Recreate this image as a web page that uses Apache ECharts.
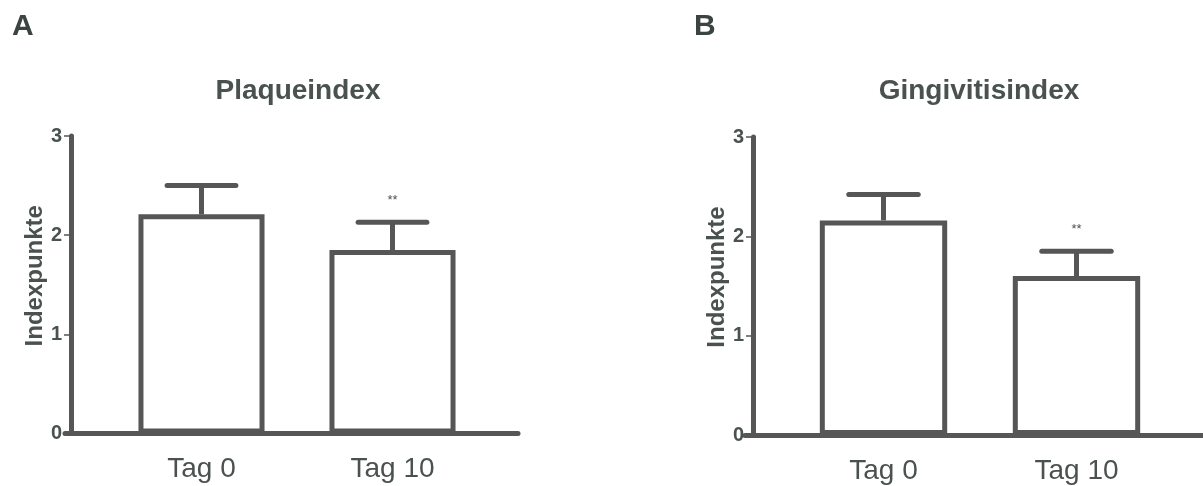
<!DOCTYPE html>
<html>
<head>
<meta charset="utf-8">
<script src="https://cdn.jsdelivr.net/npm/echarts@6/dist/echarts.min.js"></script>
<style>
html,body{margin:0;padding:0;background:#fff;}
#c{width:1203px;height:486px;}
</style>
</head>
<body>
<div id="c"></div>
<script>
// ---- data ----
const categories = ['Tag 0', 'Tag 10'];
const panelLetters = ['A', 'B'];
const panelTitles = ['Plaqueindex', 'Gingivitisindex'];
const yAxisName = 'Indexpunkte';
const plaqueMean = [2.21, 1.85];
const plaqueSem = [0.29, 0.28];
const gingivitisMean = [2.16, 1.60];
const gingivitisSem = [0.26, 0.25];
const significance = ['', '**'];
const yTicks = [0, 1, 2, 3];

// ---- styles ----
const FONT = '"Liberation Sans", Arial, Helvetica, sans-serif';
const LINE = '#565656';
const TEXT = '#4a524f';
const LW = 5;

const chart = echarts.init(document.getElementById('c'), null, {renderer: 'canvas'});

// panel layouts
const panels = [
  {barLeft: 106, barWidth: 382, top: 136, height: 297.5, axisX: 71, baseLeft: 65, baseWidth: 453, titleX: 298, letterX: 12},
  {barLeft: 787, barWidth: 386, top: 137, height: 298, axisX: 753, baseLeft: 745, baseWidth: 480, titleX: 979, letterX: 694}
];
const means = [plaqueMean, gingivitisMean];
const sems = [plaqueSem, gingivitisSem];

const grids = [], xAxes = [], yAxes = [], series = [], titles = [];

panels.forEach((p, i) => {
  grids.push({left: p.barLeft, width: p.barWidth, top: p.top, height: p.height, containLabel: false});
  grids.push({left: p.baseLeft, width: p.baseWidth, top: p.top, height: p.height, containLabel: false});
  const gBar = i * 2, gBase = i * 2 + 1;

  xAxes.push({
    gridIndex: gBar, type: 'category', data: categories, boundaryGap: true,
    axisLine: {show: false}, axisTick: {show: false}, splitLine: {show: false},
    axisLabel: {color: TEXT, fontFamily: FONT, fontSize: 28, margin: 22}
  });
  xAxes.push({
    gridIndex: gBase, type: 'value', min: 0, max: 1,
    axisLine: {show: true, onZero: false, lineStyle: {color: LINE, width: LW}},
    axisTick: {show: false}, axisLabel: {show: false}, splitLine: {show: false}
  });
  yAxes.push({
    gridIndex: gBar, type: 'value', min: yTicks[0], max: yTicks[yTicks.length - 1], interval: 1,
    offset: p.barLeft - p.axisX,
    name: yAxisName, nameLocation: 'middle', nameRotate: 90, nameGap: 22,
    nameTextStyle: {color: TEXT, fontFamily: FONT, fontSize: 24, fontWeight: 'bold', padding: [0, 0, 0, 18]},
    axisLine: {show: true, lineStyle: {color: LINE, width: LW}},
    axisTick: {show: true, inside: false, length: 7, lineStyle: {color: LINE, width: 1.5}},
    axisLabel: {color: TEXT, fontFamily: FONT, fontSize: 20, fontWeight: 'bold', margin: 9},
    splitLine: {show: false}
  });
  yAxes.push({gridIndex: gBase, type: 'value', min: 0, max: 3, show: false});

  series.push({
    type: 'bar', xAxisIndex: i * 2, yAxisIndex: i * 2,
    data: means[i], barWidth: '66%',
    itemStyle: {color: '#ffffff', borderColor: LINE, borderWidth: LW},
    silent: true, z: 2
  });
  const m = means[i], s = sems[i];
  series.push({
    type: 'custom', xAxisIndex: i * 2, yAxisIndex: i * 2, z: 3, silent: true,
    data: categories.map((c, k) => [k, m[k], m[k] + s[k], k]),
    renderItem: function (params, api) {
      const x = api.value(0);
      const base = api.coord([x, api.value(1)]);
      const top = api.coord([x, api.value(2)]);
      const half = api.size([1, 0])[0] * 0.18;
      const sig = significance[api.value(3)];
      const children = [
        {type: 'line', shape: {x1: top[0], y1: base[1], x2: top[0], y2: top[1]}, style: {stroke: LINE, lineWidth: LW}},
        {type: 'line', shape: {x1: top[0] - half, y1: top[1], x2: top[0] + half, y2: top[1]}, style: {stroke: LINE, lineWidth: LW, lineCap: 'round'}}
      ];
      if (sig) {
        children.push({type: 'text', x: top[0], y: top[1] - 22,
          style: {text: sig, fill: TEXT, font: '13px ' + FONT, align: 'center', verticalAlign: 'middle'}});
      }
      return {type: 'group', children: children};
    }
  });

  titles.push({text: panelTitles[i], left: p.titleX, top: 77, textAlign: 'center', padding: 0,
    textStyle: {color: TEXT, fontFamily: FONT, fontSize: 28, fontWeight: 'bold'}});
  titles.push({text: panelLetters[i], left: p.letterX, top: 12, padding: 0,
    textStyle: {color: '#3b4441', fontFamily: FONT, fontSize: 30, fontWeight: 'bold'}});
});

chart.setOption({
  backgroundColor: '#ffffff',
  animation: false,
  title: titles,
  grid: grids,
  xAxis: xAxes,
  yAxis: yAxes,
  series: series
});
</script>
</body>
</html>
